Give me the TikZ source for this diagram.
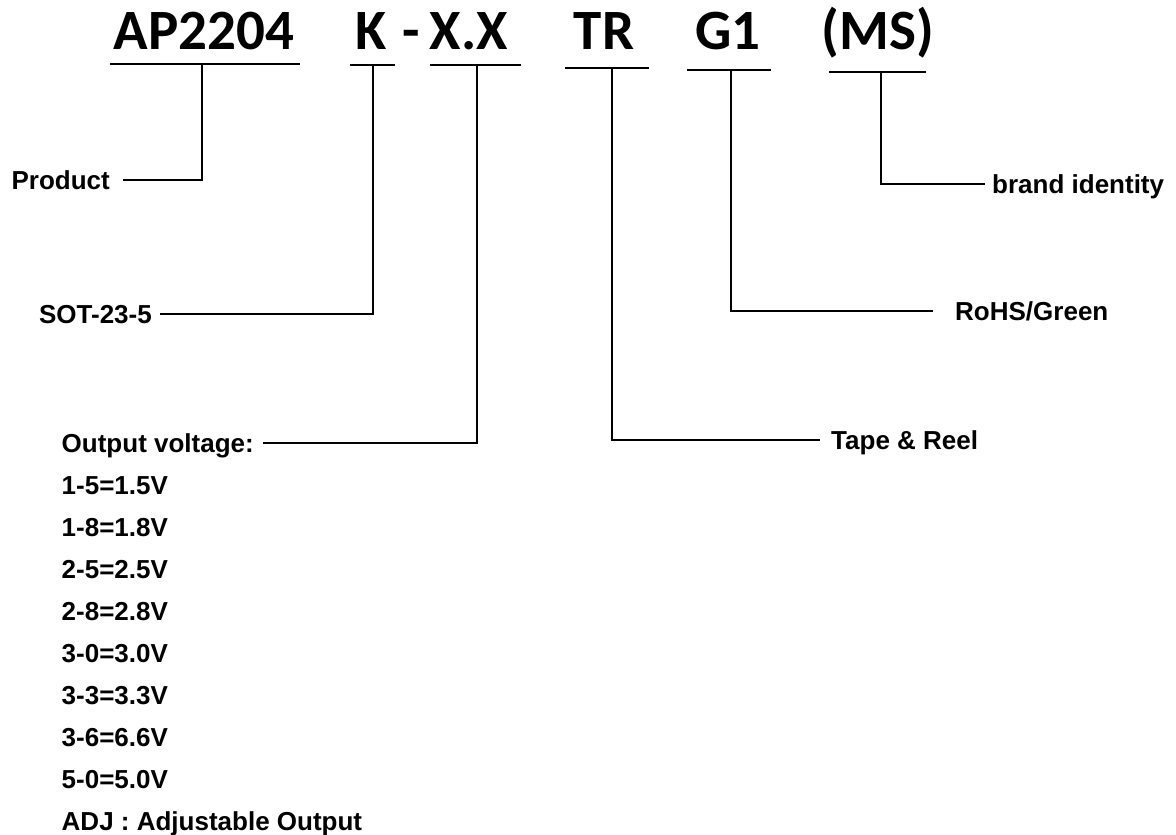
\documentclass[tikz,border=0pt]{standalone}
\usepackage{fontspec}
\newfontfamily\titlefont{Carlito}
\newfontfamily\labfont{Liberation Sans}
\begin{document}
\begin{tikzpicture}[x=1pt,y=-1pt,
  ln/.style={line width=2.5pt},
  ttl/.style={inner sep=0pt,anchor=base,font=\titlefont\bfseries\fontsize{57}{57}\selectfont},
  lbl/.style={inner sep=0pt,font=\labfont\bfseries\fontsize{26}{26}\selectfont}]
\useasboundingbox[fill=white] (0,0) rectangle (1176,835);
% title parts
\node[ttl] (ap) at (204,49) {AP2204};
\node[ttl] (k) at (371,49) {K};
\node[ttl] (dash) at (411,49) {-};
\node[ttl] (xx) at (469,49) {X.X};
\node[ttl] (tr) at (604,49) {TR};
\node[ttl] (g1) at (728,49) {G1};
\node[ttl] (ms) at (878,49) {(MS)};
% underlines
\draw[ln] (110,64) -- (300,64);
\draw[ln] (350,65) -- (395,65);
\draw[ln] (430,65) -- (521,65);
\draw[ln] (565,68) -- (649,68);
\draw[ln] (687,70) -- (771,70);
\draw[ln] (829,72) -- (926,72);
\coordinate (t1) at (202,64);
\coordinate (t2) at (373,65);
\coordinate (t3) at (477,65);
\coordinate (t4) at (612,68);
\coordinate (t5) at (731,70);
\coordinate (t6) at (881,72);
% free ends
\coordinate (e1) at (123,180);
\coordinate (e2) at (160,314);
\coordinate (e3) at (263,443);
\coordinate (e4) at (820,440);
\coordinate (e5) at (933,311);
\coordinate (e6) at (985,184);
% labels
\node[lbl,anchor=base east] (product) at (110,189) {Product};
\node[lbl,anchor=base east] (sot) at (152,323) {SOT-23-5};
\node[lbl,anchor=base east] (outv) at (254,452) {Output voltage:};
\node[lbl,anchor=base west] (tape) at (831,449) {Tape \& Reel};
\node[lbl,anchor=base west] (rohs) at (955,320) {RoHS/Green};
\node[lbl,anchor=base west] (brand) at (992,193) {brand identity};
% connectors
\draw[ln] (t1) |- (e1);
\draw[ln] (t2) |- (e2);
\draw[ln] (t3) |- (e3);
\draw[ln] (t4) |- (e4);
\draw[ln] (t5) |- (e5);
\draw[ln] (t6) |- (e6);
% voltage list
\begin{scope}[every node/.style={lbl,anchor=base west}]
\node (v1) at (outv.base west) [yshift=-42pt] {1-5=1.5V};
\node (v2) at (v1.base west) [yshift=-42pt] {1-8=1.8V};
\node (v3) at (v2.base west) [yshift=-42pt] {2-5=2.5V};
\node (v4) at (v3.base west) [yshift=-42pt] {2-8=2.8V};
\node (v5) at (v4.base west) [yshift=-42pt] {3-0=3.0V};
\node (v6) at (v5.base west) [yshift=-42pt] {3-3=3.3V};
\node (v7) at (v6.base west) [yshift=-42pt] {3-6=6.6V};
\node (v8) at (v7.base west) [yshift=-42pt] {5-0=5.0V};
\node (v9) at (v8.base west) [yshift=-42pt] {ADJ : Adjustable Output};
\end{scope}
\end{tikzpicture}
\end{document}
